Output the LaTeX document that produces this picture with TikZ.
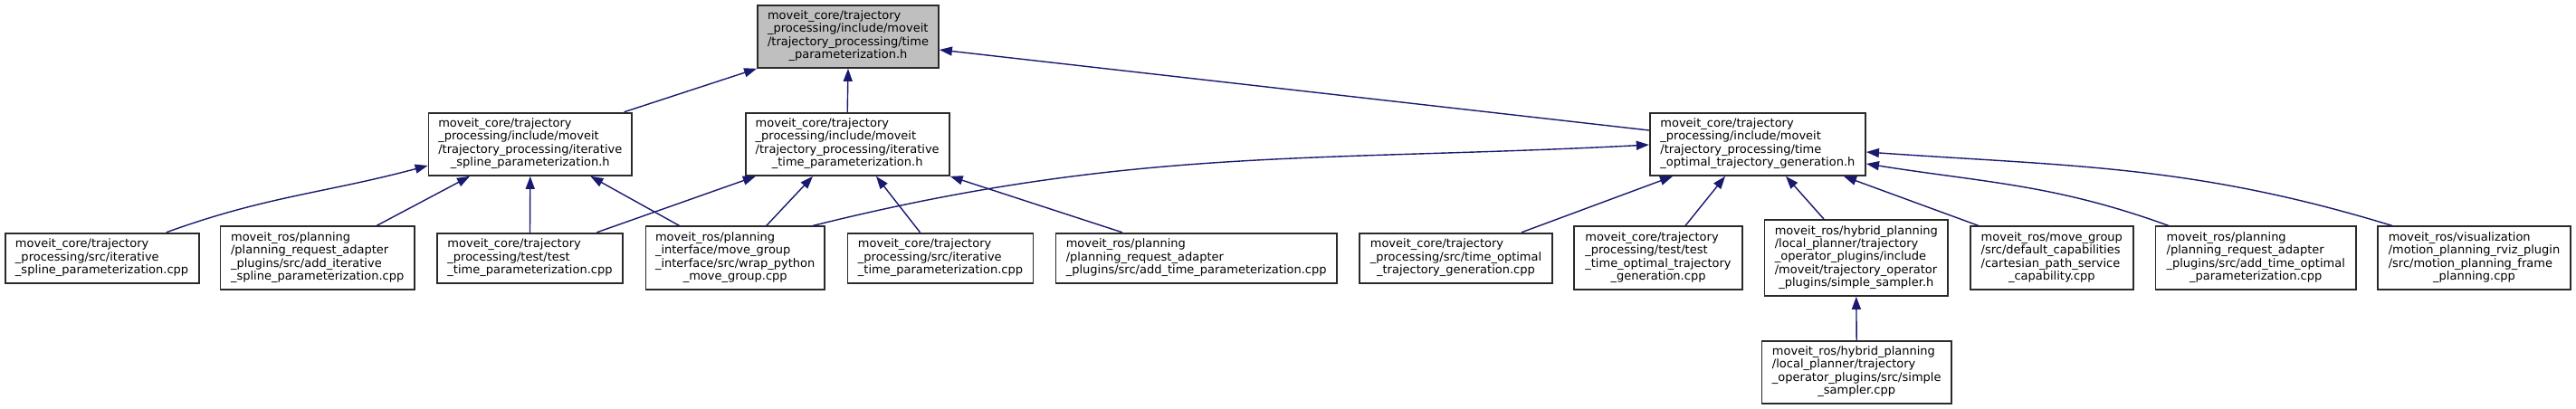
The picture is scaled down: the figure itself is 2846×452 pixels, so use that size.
\documentclass[tikz,border=0pt]{standalone}
\usepackage{fontspec}
\setmainfont{DejaVu Sans}
\usetikzlibrary{arrows.meta}
\definecolor{edgeblue}{HTML}{191970}
\definecolor{boxline}{HTML}{2A2A2A}
\definecolor{topgray}{HTML}{BFBFBF}
\newcommand\lastln[1]{\multicolumn{1}{@{}c@{}}{#1}}
\newcommand\lbl[1]{\begin{tabular}{@{}l@{}}#1\end{tabular}}
\tikzset{
  filebox/.style={draw=boxline, line width=1.8pt, fill=white, rectangle, inner sep=0pt,
    font=\fontsize{13}{14.4}\selectfont},
  dep/.style={draw=edgeblue, line width=1.4pt, -{Triangle[length=14pt,width=10pt]}},
}
\begin{document}
\begin{tikzpicture}[x=1pt,y=-1pt]
\fill[white] (0,0) rectangle (2846,452);
\useasboundingbox (0,0) rectangle (2846,452);

% level 0
\node[filebox, fill=topgray, minimum width=200pt, minimum height=69.3pt] (top) at (937,40.3)
  {\lbl{moveit\_core/trajectory\\\_processing/include/moveit\\/trajectory\_processing/time\\\lastln{\_parameterization.h}}};

% level 1
\node[filebox, minimum width=224.5pt, minimum height=69.3pt] (ispl) at (585.8,159.3)
  {\lbl{moveit\_core/trajectory\\\_processing/include/moveit\\/trajectory\_processing/iterative\\\lastln{\_spline\_parameterization.h}}};
\node[filebox, minimum width=225.2pt, minimum height=69.3pt] (itim) at (936.2,159.3)
  {\lbl{moveit\_core/trajectory\\\_processing/include/moveit\\/trajectory\_processing/iterative\\\lastln{\_time\_parameterization.h}}};
\node[filebox, minimum width=238.3pt, minimum height=69.3pt] (topt) at (1941.9,159.3)
  {\lbl{moveit\_core/trajectory\\\_processing/include/moveit\\/trajectory\_processing/time\\\lastln{\_optimal\_trajectory\_generation.h}}};

% level 2
\node[filebox, minimum width=214pt, minimum height=55pt] (L1) at (112.6,285.2)
  {\lbl{moveit\_core/trajectory\\\_processing/src/iterative\\\lastln{\_spline\_parameterization.cpp}}};
\node[filebox, minimum width=214.6pt, minimum height=69.3pt] (L2) at (350.7,285)
  {\lbl{moveit\_ros/planning\\/planning\_request\_adapter\\\_plugins/src/add\_iterative\\\lastln{\_spline\_parameterization.cpp}}};
\node[filebox, minimum width=205pt, minimum height=55pt] (L3) at (585.5,285.2)
  {\lbl{moveit\_core/trajectory\\\_processing/test/test\\\lastln{\_time\_parameterization.cpp}}};
\node[filebox, minimum width=197.6pt, minimum height=69.3pt] (L4) at (812.2,285)
  {\lbl{moveit\_ros/planning\\\_interface/move\_group\\\_interface/src/wrap\_python\\\lastln{\_move\_group.cpp}}};
\node[filebox, minimum width=205pt, minimum height=55pt] (L5) at (1039,285.2)
  {\lbl{moveit\_core/trajectory\\\_processing/src/iterative\\\lastln{\_time\_parameterization.cpp}}};
\node[filebox, minimum width=310.5pt, minimum height=55pt] (L6) at (1321.7,285.2)
  {\lbl{moveit\_ros/planning\\/planning\_request\_adapter\\\lastln{\_plugins/src/add\_time\_parameterization.cpp}}};
\node[filebox, minimum width=213pt, minimum height=55pt] (L7) at (1608.5,285.2)
  {\lbl{moveit\_core/trajectory\\\_processing/src/time\_optimal\\\lastln{\_trajectory\_generation.cpp}}};
\node[filebox, minimum width=186pt, minimum height=69.3pt] (L8) at (1832,285)
  {\lbl{moveit\_core/trajectory\\\_processing/test/test\\\_time\_optimal\_trajectory\\\lastln{\_generation.cpp}}};
\node[filebox, minimum width=202.5pt, minimum height=84pt] (L9) at (2050.8,285)
  {\lbl{moveit\_ros/hybrid\_planning\\/local\_planner/trajectory\\\_operator\_plugins/include\\/moveit/trajectory\_operator\\\lastln{\_plugins/simple\_sampler.h}}};
\node[filebox, minimum width=179.7pt, minimum height=69.3pt] (L10) at (2266.8,285)
  {\lbl{moveit\_ros/move\_group\\/src/default\_capabilities\\/cartesian\_path\_service\\\lastln{\_capability.cpp}}};
\node[filebox, minimum width=221.6pt, minimum height=69.3pt] (L11) at (2492.2,285)
  {\lbl{moveit\_ros/planning\\/planning\_request\_adapter\\\_plugins/src/add\_time\_optimal\\\lastln{\_parameterization.cpp}}};
\node[filebox, minimum width=213pt, minimum height=69.3pt] (L12) at (2733.5,285)
  {\lbl{moveit\_ros/visualization\\/motion\_planning\_rviz\_plugin\\/src/motion\_planning\_frame\\\lastln{\_planning.cpp}}};

% level 3
\node[filebox, minimum width=209.5pt, minimum height=69.3pt] (bot) at (2051.2,411.3)
  {\lbl{moveit\_ros/hybrid\_planning\\/local\_planner/trajectory\\\_operator\_plugins/src/simple\\\lastln{\_sampler.cpp}}};

% edges to top
\draw[dep] ([xshift=103.8pt]ispl.north) -- (top.south west);
\draw[dep] (itim.north) -- (top.south);
\draw[dep] ([yshift=15.3pt]topt.west) -- ([yshift=-14.7pt]top.east);

% edges to ispl
\draw[dep] ([xshift=71.2pt]L1.north) to[out=20,in=195] ([yshift=-23.7pt]ispl.west);
\draw[dep] ([xshift=65.3pt]L2.north) -- ([xshift=-66.8pt]ispl.south);
\draw[dep] (L3.north) -- (ispl.south);
\draw[dep] ([xshift=-61.6pt]L4.north) -- ([xshift=66.6pt]ispl.south);

% edges to itim
\draw[dep] ([xshift=73.9pt]L3.north) -- ([xshift=-101.4pt]itim.south);
\draw[dep] ([xshift=34.5pt]L4.north) -- ([xshift=-38.2pt]itim.south);
\draw[dep] ([xshift=-22.5pt]L5.north) -- ([xshift=31.8pt]itim.south);
\draw[dep] ([xshift=-81.9pt]L6.north) -- (itim.south east);

% edges to topt
\draw[dep] ([xshift=85.8pt]L4.north) to[out=14,in=183] ([yshift=-0.7pt]topt.west);
\draw[dep] ([xshift=72.5pt]L7.north) -- ([xshift=-93.9pt]topt.south);
\draw[dep] ([xshift=30pt]L8.north) -- ([xshift=-35.9pt]topt.south);
\draw[dep] ([xshift=-35.8pt]L9.north) -- ([xshift=31.1pt]topt.south);
\draw[dep] ([xshift=-80.8pt]L10.north) -- ([xshift=95.1pt]topt.south);
\draw[dep] ([xshift=-96.2pt]L11.north) to[out=160,in=-9] ([yshift=-21.7pt]topt.east);
\draw[dep] ([xshift=-90.5pt]L12.north) to[out=163,in=-4] ([yshift=-8.7pt]topt.east);

% edge to L9
\draw[dep] (bot.north) -- (L9.south);
\end{tikzpicture}
\end{document}
